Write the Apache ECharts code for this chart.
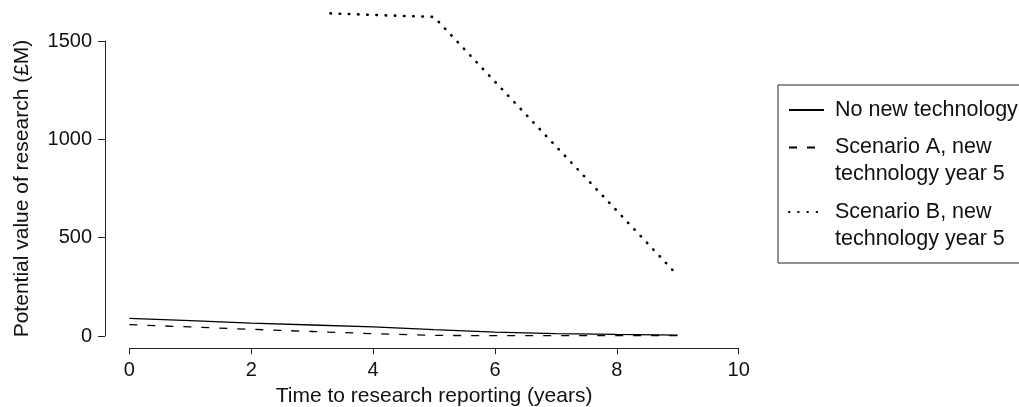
<!DOCTYPE html>
<html><head><meta charset="utf-8">
<script src="https://cdn.jsdelivr.net/npm/echarts@6/dist/echarts.min.js"></script>
<style>html,body{margin:0;padding:0;background:#fff}#c{width:1019px;height:407px}</style>
</head><body><div id="c"></div>
<script>
// ---- data ----
const seriesNames = ['No new technology', 'Scenario A, new\ntechnology year 5', 'Scenario B, new\ntechnology year 5'];
const years = [0, 1, 2, 3, 4, 5, 6, 7, 8, 9];
const noNewTech = [90, 78, 66, 56, 46, 32, 20, 12, 8, 5];
const scenarioA = [58, 46, 34, 23, 12, 3, 2, 2, 2, 2];
const yearsB = [3.3, 4, 5, 6, 7, 8, 9];
const scenarioB = [1640, 1632, 1622, 1293, 965, 637, 308];
const xTicks = [0, 2, 4, 6, 8, 10];
const yTicks = [0, 500, 1000, 1500];
const xTitle = 'Time to research reporting (years)';
const yTitle = 'Potential value of research (£M)';

// ---- chart ----
const FONT = '"Liberation Sans", Arial, Helvetica, sans-serif';
const INK = '#111';
const AX = '#222';
const pairs = (xs, ys) => xs.map((x, i) => [x, ys[i]]);

const chart = echarts.init(document.getElementById('c'), null, {renderer: 'canvas'});
chart.setOption({
  animation: false,
  backgroundColor: '#fff',
  textStyle: {fontFamily: FONT},
  grid: [
    {left: 105, top: 0, width: 658, height: 349},
    {left: 129.4, top: 348, width: 609.3, height: 1},
    {left: 105, top: 41, width: 1, height: 295}
  ],
  xAxis: [
    {gridIndex: 0, type: 'value', min: -0.4, max: 10.4, show: false},
    {gridIndex: 1, type: 'value', min: xTicks[0], max: xTicks[xTicks.length - 1], interval: xTicks[1] - xTicks[0],
      axisLine: {show: true, lineStyle: {color: AX, width: 1}},
      axisTick: {show: true, inside: false, length: 6, lineStyle: {color: AX, width: 1}},
      axisLabel: {show: true, margin: 12, color: INK, fontSize: 20, fontFamily: FONT, formatter: v => String(v)},
      splitLine: {show: false},
      name: xTitle, nameLocation: 'middle', nameGap: 37,
      nameTextStyle: {color: INK, fontSize: 21, fontFamily: FONT}},
    {gridIndex: 2, type: 'value', min: 0, max: 1, show: false}
  ],
  yAxis: [
    {gridIndex: 0, type: 'value', min: -66, max: 1708, show: false},
    {gridIndex: 1, type: 'value', min: 0, max: 1, show: false},
    {gridIndex: 2, type: 'value', min: yTicks[0], max: yTicks[yTicks.length - 1], interval: yTicks[1] - yTicks[0],
      axisLine: {show: true, lineStyle: {color: AX, width: 1}},
      axisTick: {show: true, inside: false, length: 7, lineStyle: {color: AX, width: 1}},
      axisLabel: {show: true, margin: 13, color: INK, fontSize: 20, fontFamily: FONT, formatter: v => String(v)},
      splitLine: {show: false},
      name: yTitle, nameLocation: 'middle', nameGap: 72,
      nameTextStyle: {color: INK, fontSize: 21, fontFamily: FONT}}
  ],
  legend: {
    orient: 'vertical', left: 778, top: 85,
    padding: [11.5, 20, 10.5, 10],
    itemGap: -16.5, itemWidth: 35, itemHeight: 14,
    borderColor: AX, borderWidth: 1, borderRadius: 0,
    selectedMode: false,
    itemStyle: {opacity: 0},
    textStyle: {fontSize: 21.5, color: INK, fontFamily: FONT, lineHeight: 27, padding: [0, 0, 0, 6]},
    formatter: n => (n.indexOf('\n') >= 0 ? '\n' + n : n),
    data: seriesNames
  },
  series: [
    {name: seriesNames[0], type: 'line', xAxisIndex: 0, yAxisIndex: 0, symbol: 'none',
      lineStyle: {color: '#000', width: 1.3, type: 'solid'},
      data: pairs(years, noNewTech)},
    {name: seriesNames[1], type: 'line', xAxisIndex: 0, yAxisIndex: 0, symbol: 'none',
      lineStyle: {color: '#000', width: 1.3, type: [8, 10]},
      data: pairs(years, scenarioA)},
    {name: seriesNames[2], type: 'line', xAxisIndex: 0, yAxisIndex: 0, symbol: 'none',
      lineStyle: {color: '#000', width: 2.6, type: [0.5, 8.7], cap: 'round'},
      data: pairs(yearsB, scenarioB)}
  ]
});
</script>
</body></html>
